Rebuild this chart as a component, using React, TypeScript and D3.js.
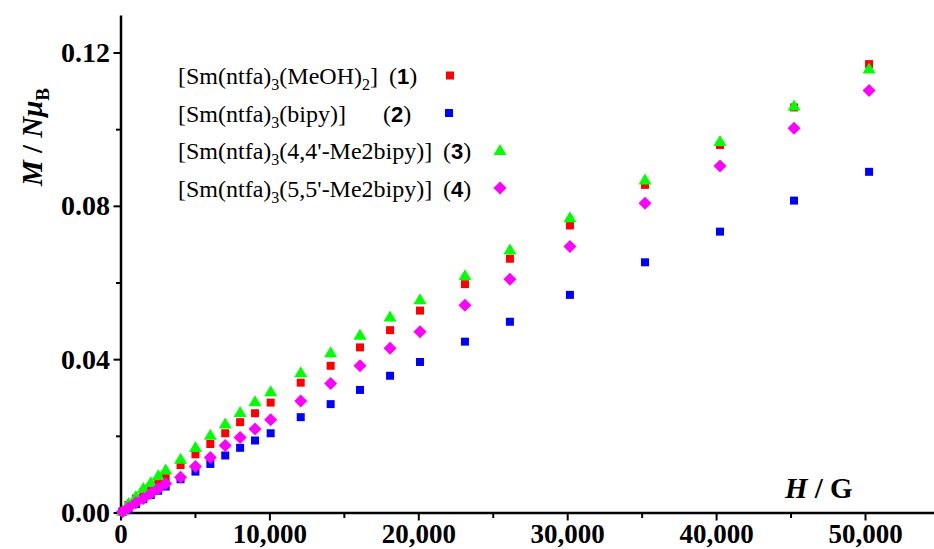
import React from 'react';
import { scaleLinear } from 'd3';

// field values (G) and magnetisation (N muB)
const fields = [100, 500, 1000, 1500, 2000, 2500, 3000, 4000, 5000, 6000, 7000, 8000, 9000, 10050, 12070, 14080, 16050, 18070, 20080, 23100, 26120, 30150, 35190, 40230, 45200, 50240];
const meoh = [0.0004, 0.0021, 0.0038, 0.0054, 0.0069, 0.0080, 0.0091, 0.0125, 0.0153, 0.0180, 0.0208, 0.0237, 0.0260, 0.0288, 0.0340, 0.0384, 0.0432, 0.0477, 0.0528, 0.0597, 0.0663, 0.0750, 0.0856, 0.0960, 0.1058, 0.1171];
const bipy = [0.0003, 0.0011, 0.0023, 0.0036, 0.0047, 0.0058, 0.0069, 0.0088, 0.0108, 0.0128, 0.0150, 0.0170, 0.0189, 0.0208, 0.0250, 0.0284, 0.0321, 0.0358, 0.0394, 0.0447, 0.0499, 0.0569, 0.0654, 0.0734, 0.0815, 0.0890];
const me44 = [0.0005, 0.0025, 0.0043, 0.0064, 0.0079, 0.0097, 0.0112, 0.0140, 0.0171, 0.0203, 0.0232, 0.0262, 0.0290, 0.0316, 0.0366, 0.0418, 0.0464, 0.0511, 0.0556, 0.0619, 0.0686, 0.0770, 0.0869, 0.0969, 0.1062, 0.1158];
const me55 = [0.0003, 0.0013, 0.0027, 0.0038, 0.0051, 0.0064, 0.0076, 0.0093, 0.0121, 0.0145, 0.0176, 0.0197, 0.0219, 0.0243, 0.0292, 0.0338, 0.0384, 0.0430, 0.0473, 0.0542, 0.0610, 0.0695, 0.0808, 0.0905, 0.1004, 0.1102];

const xTicks = [0, 10000, 20000, 30000, 40000, 50000];
const xMinor = [5000, 15000, 25000, 35000, 45000];
const xTickLabels = ['0', '10,000', '20,000', '30,000', '40,000', '50,000'];
const yTicks = [0, 0.04, 0.08, 0.12];
const yMinor = [0.02, 0.06, 0.1];
const yTickLabels = ['0.00', '0.04', '0.08', '0.12'];

const serif = 'Liberation Serif';
const sans = 'Liberation Sans';

type Shape = 'square' | 'triangle' | 'diamond';

const markerPath = (shape: Shape, x: number, y: number) => {
    if (shape === 'square') return `M${x - 4},${y - 4}h8v8h-8Z`;
    if (shape === 'triangle') return `M${x},${y - 6.5}L${x + 6.5},${y + 4.5}L${x - 6.5},${y + 4.5}Z`;
    return `M${x},${y - 6.5}L${x + 6.5},${y}L${x},${y + 6.5}L${x - 6.5},${y}Z`;
};

export default function App() {
    const width = 934, height = 549;
    const x0 = 121, y0 = 513;

    const xScale = scaleLinear().domain([0, 50000]).range([x0, 865.5]);
    const yScale = scaleLinear().domain([0, 0.12]).range([y0, 53]);

    const series = [
        { values: meoh, color: '#ff0000', shape: 'square' as Shape },
        { values: bipy, color: '#0000ff', shape: 'square' as Shape },
        { values: me44, color: '#00ff00', shape: 'triangle' as Shape },
        { values: me55, color: '#ff00ff', shape: 'diamond' as Shape },
    ];

    const legendRows = [
        { body: '(MeOH)', sub2: '2', tail: ']', num: '1', numX: 389, mx: 450, baseline: 84 },
        { body: '(bipy)]', sub2: '', tail: '', num: '2', numX: 383, mx: 449, baseline: 121.5 },
        { body: "(4,4'-Me2bipy)]", sub2: '', tail: '', num: '3', numX: 443, mx: 500, baseline: 159 },
        { body: "(5,5'-Me2bipy)]", sub2: '', tail: '', num: '4', numX: 443, mx: 500, baseline: 196.5 },
    ];

    const yTop = yScale(0.1298);

    return (
        <svg width={width} height={height} style={{ position: 'absolute', left: 0, top: 0, background: '#fff' }}>
            {/* axes */}
            <line x1={x0} y1={yTop} x2={x0} y2={y0 + 1} stroke='#000' strokeWidth={2.5} />
            <line x1={x0 - 1} y1={y0} x2={width} y2={y0} stroke='#000' strokeWidth={2.5} />

            {xTicks.map((t, i) => (
                <g key={'xt' + t}>
                    <line x1={xScale(t)} x2={xScale(t)} y1={y0} y2={y0 + 7.5} stroke='#000' strokeWidth={2} />
                    <text x={xScale(t)} y={543} textAnchor='middle' fontFamily={serif} fontWeight='bold' fontSize={27}>{xTickLabels[i]}</text>
                </g>
            ))}
            {xMinor.map((t) => (
                <line key={'xm' + t} x1={xScale(t)} x2={xScale(t)} y1={y0} y2={y0 + 5} stroke='#000' strokeWidth={2} />
            ))}
            {yTicks.map((t, i) => (
                <g key={'yt' + t}>
                    <line x1={x0 - 7.5} x2={x0} y1={yScale(t)} y2={yScale(t)} stroke='#000' strokeWidth={2} />
                    <text x={110} y={yScale(t) + 9} textAnchor='end' fontFamily={serif} fontWeight='bold' fontSize={28}>{yTickLabels[i]}</text>
                </g>
            ))}
            {yMinor.map((t) => (
                <line key={'ym' + t} x1={x0 - 5} x2={x0} y1={yScale(t)} y2={yScale(t)} stroke='#000' strokeWidth={2} />
            ))}

            {/* axis titles */}
            <text x={785} y={498} fontFamily={serif} fontWeight='bold' fontSize={29}>
                <tspan fontStyle='italic'>H</tspan> / G
            </text>
            <text transform='translate(42,137) rotate(-90)' textAnchor='middle' fontFamily={serif} fontWeight='bold' fontSize={29}>
                <tspan fontStyle='italic'>M</tspan> / <tspan fontStyle='italic'>N</tspan><tspan fontStyle='italic'>μ</tspan><tspan fontSize={19} dy={7}>B</tspan>
            </text>

            {/* data */}
            {series.map((s, si) => (
                <g key={'s' + si} fill={s.color}>
                    {fields.map((h, i) => (
                        <path key={i} d={markerPath(s.shape, xScale(h), yScale(s.values[i]))} />
                    ))}
                </g>
            ))}

            {/* legend */}
            {legendRows.map((r, i) => (
                <g key={'lg' + i}>
                    <text x={178} y={r.baseline} fontFamily={serif} fontSize={24}>
                        [Sm(ntfa)<tspan fontSize={16} dy={6}>3</tspan>
                        <tspan dy={-6}>{r.body}</tspan>
                        {r.sub2 ? <tspan fontSize={16} dy={6}>{r.sub2}</tspan> : null}
                        {r.tail ? <tspan dy={-6}>{r.tail}</tspan> : null}
                    </text>
                    <text x={r.numX} y={r.baseline} fontFamily={serif} fontSize={24}>
                        (<tspan fontFamily={sans} fontWeight='bold' fontSize={22}>{r.num}</tspan>)
                    </text>
                    <path d={markerPath(series[i].shape, r.mx, r.baseline - 8.5)} fill={series[i].color} />
                </g>
            ))}
        </svg>
    );
}
